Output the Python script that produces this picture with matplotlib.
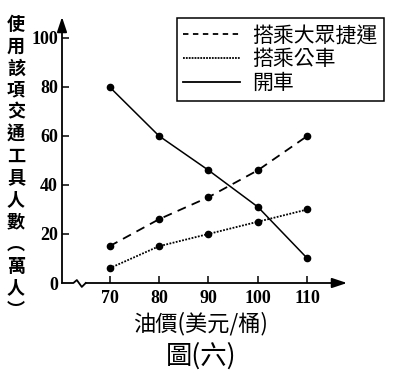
import matplotlib
matplotlib.use("Agg")
import matplotlib.pyplot as plt
from matplotlib.lines import Line2D

plt.rcParams["font.family"] = ["Noto Sans CJK TC", "DejaVu Sans"]

# data
oil_price = [70, 80, 90, 100, 110]
mrt = [15, 26, 35, 46, 60]
bus = [6, 15, 20, 25, 30]
car = [80, 60, 46, 31, 10]
labels = ["搭乘大眾捷運", "搭乘公車", "開車"]
y_ticks = [0, 20, 40, 60, 80, 100]

W, H = 407, 374
fig = plt.figure(figsize=(W / 100, H / 100), dpi=100)
ax = fig.add_axes([62 / W, 1 - 283 / H, (347 - 62) / W, (283 - 17) / H])
ax.set_xlim(60.4, 118)
ax.set_ylim(0, 108.5)
for s in ax.spines.values():
    s.set_visible(False)

mk = dict(marker="o", ms=4.5, color="black", clip_on=False)
ax.plot(oil_price, mrt, ls=(0, (5, 3.5)), lw=1.3, **mk)
ax.plot(oil_price, bus, ls=(0, (1, 0.8)), lw=1.3, **mk)
ax.plot(oil_price, car, ls="-", lw=1.1, **mk)

# axes with arrows and the break on the x axis
arrow = dict(arrowstyle="-|>,head_length=0.9,head_width=0.3", lw=1.3,
             color="black", shrinkA=0, shrinkB=0)
ax.annotate("", xy=(0, 1), xytext=(0, 0), xycoords="axes fraction", arrowprops=arrow)
ax.annotate("", xy=(118, 0), xytext=(65.2, 0), xycoords="data",
            arrowprops=arrow, annotation_clip=False)
ax.plot([60.4, 62.7, 63.4, 64.4, 65.2], [0, 0, 1.2, -1.6, 0],
        color="black", lw=1.3, clip_on=False)

tick_font = dict(family="Liberation Serif", weight="bold", size=13)
ax.set_xticks(oil_price)
ax.set_xticklabels([str(v) for v in oil_price], **tick_font)
ax.set_yticks(y_ticks)
ax.set_yticklabels([str(v) for v in y_ticks], **tick_font)
ax.tick_params(direction="in", length=5, width=1.1)
ax.tick_params(axis="y", pad=3)
ax.tick_params(axis="x", pad=5)
ax.yaxis.get_major_ticks()[0].tick1line.set_visible(False)

# vertical y label, one character per line
ylabel = "使用該項交通工具人數︵萬人︶"
for i, ch in enumerate(ylabel):
    fig.text(16 / W, 1 - (24 + i * 22) / H, ch, ha="center", va="center",
             fontsize=13, fontweight="bold")

fig.text(200 / W, 1 - 324 / H, "油價(美元/桶)", ha="center", va="center",
         fontsize=16)
fig.text(201 / W, 1 - 356 / H, "圖(六)", ha="center", va="center",
         fontsize=19)

handles = [
    Line2D([], [], color="black", ls=(0, (3, 2.5)), lw=1.3),
    Line2D([], [], color="black", ls=(0, (1, 0.6)), lw=1.3),
    Line2D([], [], color="black", ls="-", lw=1.3),
]
leg = fig.legend(handles, labels, loc="upper left",
                 bbox_to_anchor=(177 / W, 1 - 18 / H), fancybox=False,
                 edgecolor="black", framealpha=1, prop=dict(size=15),
                 handlelength=2.7, handletextpad=0.6, labelspacing=0.1,
                 borderpad=0.3, borderaxespad=0)
leg.get_frame().set_linewidth(1.1)

fig.savefig("out.png", dpi=100)
